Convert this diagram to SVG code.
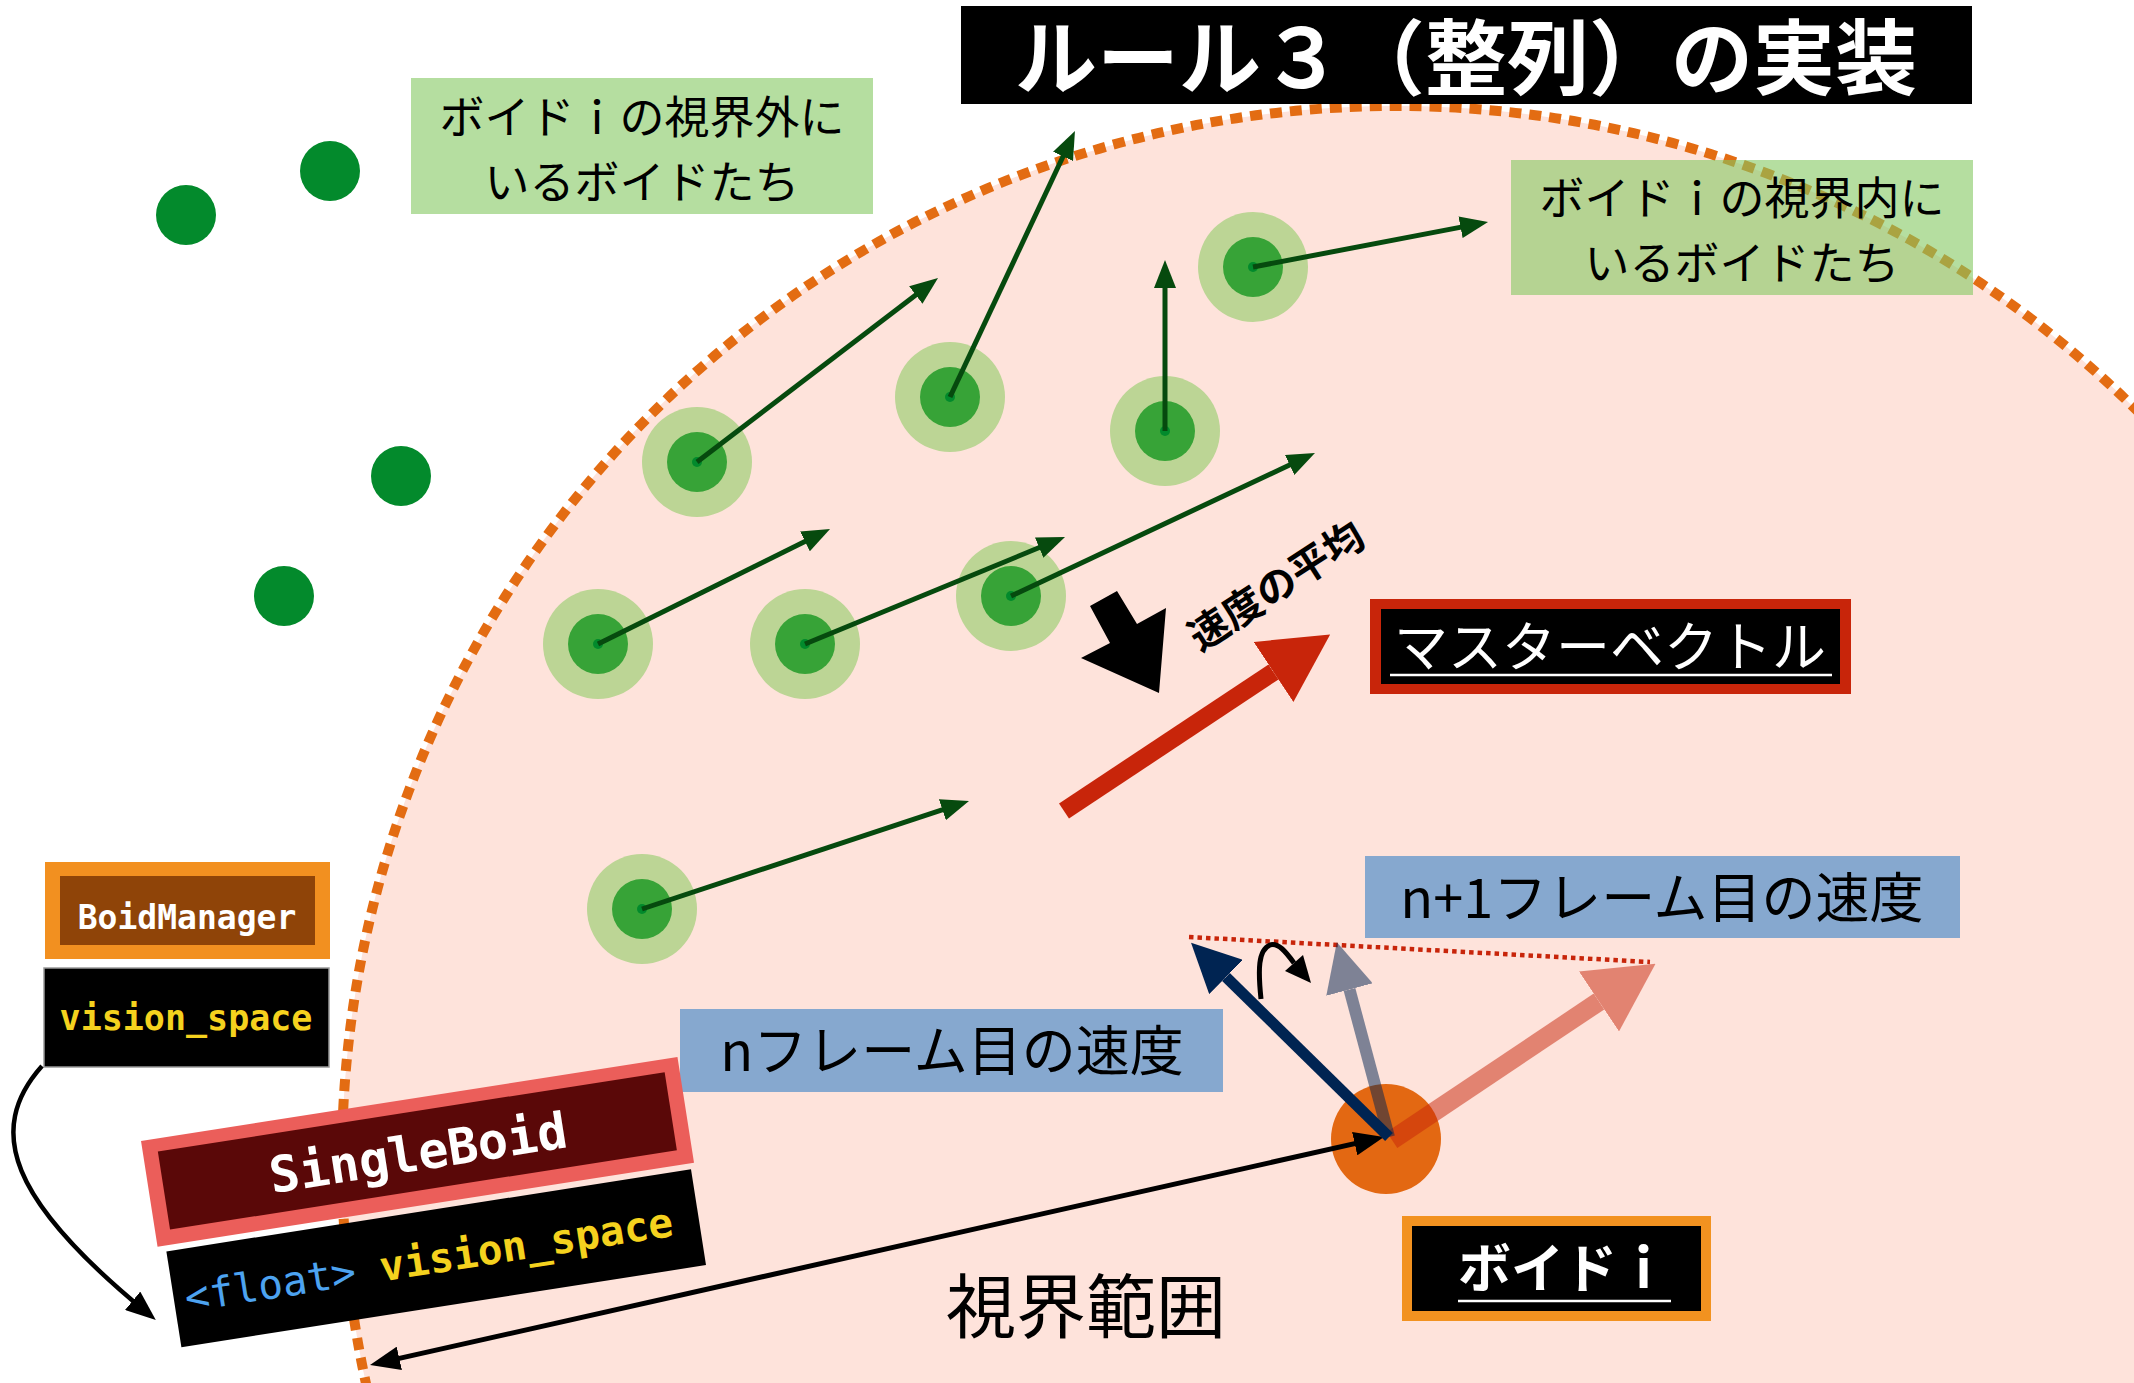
<svg xmlns="http://www.w3.org/2000/svg" width="2134" height="1383" viewBox="0 0 2134 1383">
<style>
.jp{font-family:'Noto Sans CJK JP','Noto Sans',sans-serif}
.mono{font-family:'DejaVu Sans Mono','Liberation Mono',monospace;font-weight:bold}
.ga{stroke:#064a0e;stroke-width:5;fill:none;marker-end:url(#gh)}
.bo{fill:#bcd595}.bi{fill:#37a337}.bc{fill:#028a2c}
.out{fill:#038a2c}
.lbl{fill:#84c861;fill-opacity:0.6}
.blue{fill:#86a8cf}
</style>
<defs>
<marker id="gh" viewBox="0 0 28 22" refX="14" refY="11" markerWidth="28" markerHeight="22" markerUnits="userSpaceOnUse" orient="auto"><path d="M0,0 L28,11 L0,22 z" fill="#064a0e"/></marker>
<marker id="bh" viewBox="0 0 30 24" refX="16" refY="12" markerWidth="30" markerHeight="24" markerUnits="userSpaceOnUse" orient="auto-start-reverse"><path d="M0,0 L30,12 L0,24 z" fill="#000"/></marker>
<marker id="rh" viewBox="0 0 68 72" refX="0" refY="36" markerWidth="68" markerHeight="72" markerUnits="userSpaceOnUse" orient="auto"><path d="M0,0 L68,36 L0,72 z" fill="#c8250a"/></marker>
<marker id="nh" viewBox="0 0 49 48" refX="0" refY="24" markerWidth="49" markerHeight="48" markerUnits="userSpaceOnUse" orient="auto"><path d="M0,0 L49,24 L0,48 z" fill="#002452"/></marker>
</defs>
<rect width="2134" height="1383" fill="#fff"/>

<g id="vision-range">
<circle cx="1396" cy="1160" r="1054" fill="#fee3db"/>
<circle cx="1396" cy="1160" r="1054" fill="none" stroke="#e36c12" stroke-width="10" stroke-dasharray="12 8"/>
<text class="jp" x="1086" y="1333" font-size="70" text-anchor="middle" fill="#000">視界範囲</text>
</g>

<g id="title">
<rect x="961" y="6" width="1011" height="98" fill="#000"/>
<text class="jp" x="1466" y="88" font-size="82" font-weight="bold" text-anchor="middle" fill="#fff">ルール３（整列）の実装</text>
</g>

<g id="outside-boids">
<circle class="out" cx="330" cy="171" r="30"/>
<circle class="out" cx="186" cy="215" r="30"/>
<circle class="out" cx="401" cy="476" r="30"/>
<circle class="out" cx="284" cy="596" r="30"/>
</g>

<g id="label-outside">
<rect class="lbl" x="411" y="78" width="462" height="136"/>
<text class="jp" x="642" y="134" font-size="45" text-anchor="middle">ボイドｉの視界外に</text>
<text class="jp" x="642" y="199" font-size="45" text-anchor="middle">いるボイドたち</text>
</g>

<g id="boid1"><circle class="bo" cx="697" cy="462" r="55"/><circle class="bi" cx="697" cy="462" r="30"/><circle class="bc" cx="697" cy="462" r="5"/></g>
<g id="boid2"><circle class="bo" cx="950" cy="397" r="55"/><circle class="bi" cx="950" cy="397" r="30"/><circle class="bc" cx="950" cy="397" r="5"/></g>
<g id="boid3"><circle class="bo" cx="1165" cy="431" r="55"/><circle class="bi" cx="1165" cy="431" r="30"/><circle class="bc" cx="1165" cy="431" r="5"/></g>
<g id="boid4"><circle class="bo" cx="1253" cy="267" r="55"/><circle class="bi" cx="1253" cy="267" r="30"/><circle class="bc" cx="1253" cy="267" r="5"/></g>
<g id="boid5"><circle class="bo" cx="598" cy="644" r="55"/><circle class="bi" cx="598" cy="644" r="30"/><circle class="bc" cx="598" cy="644" r="5"/></g>
<g id="boid6"><circle class="bo" cx="805" cy="644" r="55"/><circle class="bi" cx="805" cy="644" r="30"/><circle class="bc" cx="805" cy="644" r="5"/></g>
<g id="boid7"><circle class="bo" cx="1011" cy="596" r="55"/><circle class="bi" cx="1011" cy="596" r="30"/><circle class="bc" cx="1011" cy="596" r="5"/></g>
<g id="boid8"><circle class="bo" cx="642" cy="909" r="55"/><circle class="bi" cx="642" cy="909" r="30"/><circle class="bc" cx="642" cy="909" r="5"/></g>

<g id="label-inside">
<rect class="lbl" x="1511" y="160" width="462" height="135"/>
<text class="jp" x="1742" y="215" font-size="45" text-anchor="middle">ボイドｉの視界内に</text>
<text class="jp" x="1742" y="280" font-size="45" text-anchor="middle">いるボイドたち</text>
</g>

<g id="average-label">
<polygon points="1090,606 1117,591 1137,624 1166,608 1159,693 1081,658 1110,643" fill="#000"/>
<text class="jp" transform="translate(1284,598) rotate(-33)" font-size="40" font-weight="bold" text-anchor="middle">速度の平均</text>
</g>

<g id="master-vector-label">
<rect x="1370" y="599" width="481" height="95" fill="#c8250a"/>
<rect x="1381" y="609" width="459" height="75" fill="#000"/>
<text class="jp" x="1610" y="667" font-size="54" text-anchor="middle" fill="#fff">マスターベクトル</text>
<line x1="1390" y1="675" x2="1832" y2="675" stroke="#fff" stroke-width="2.5"/>
</g>

<g id="label-n1">
<rect class="blue" x="1365" y="856" width="595" height="82"/>
<text class="jp" x="1662" y="918" font-size="54" text-anchor="middle">n+1フレーム目の速度</text>
</g>
<g id="label-n">
<rect class="blue" x="680" y="1009" width="543" height="83"/>
<text class="jp" x="952" y="1071" font-size="54" text-anchor="middle">nフレーム目の速度</text>
</g>

<g id="boid-i">
<circle cx="1386" cy="1139" r="55" fill="#e36812"/>
</g>

<g id="boid-i-label">
<rect x="1402" y="1216" width="309" height="105" fill="#f29220"/>
<rect x="1412" y="1226" width="289" height="85" fill="#000"/>
<text class="jp" x="1564" y="1288" font-size="53" font-weight="bold" text-anchor="middle" fill="#fff">ボイドｉ</text>
<line x1="1458" y1="1301" x2="1671" y2="1301" stroke="#fff" stroke-width="2.5"/>
</g>

<g id="boid-manager">
<rect x="45" y="862" width="285" height="97" fill="#f29020"/>
<rect x="60" y="876" width="255" height="69" fill="#8f4408"/>
<text class="mono" x="187" y="929" font-size="33" text-anchor="middle" fill="#fff">BoidManager</text>
</g>
<g id="manager-vision-space">
<rect x="44" y="968" width="285" height="99" fill="#000" stroke="#999" stroke-width="1.5"/>
<text class="mono" x="186" y="1030" font-size="35" text-anchor="middle" fill="#f5d21e">vision_space</text>
</g>

<g id="single-boid" transform="translate(141,1141) rotate(-8.9)">
<rect x="0" y="0" width="543" height="107" fill="#eb5e5a"/>
<rect x="15" y="13" width="513" height="79" fill="#5a0808"/>
<text class="mono" x="272" y="72" font-size="50" text-anchor="middle" fill="#fff">SingleBoid</text>
<rect x="8" y="113" width="531" height="97" fill="#000"/>
<text class="mono" x="19" y="176" font-size="41"><tspan fill="#4da3f0" font-weight="normal">&lt;float&gt;</tspan> <tspan fill="#f5d21e">vision_space</tspan></text>
</g>

<g id="connectors">
<line class="ga" x1="697" y1="462" x2="926.9" y2="286.5"/>
<line class="ga" x1="950" y1="397" x2="1069" y2="143.7"/>
<line class="ga" x1="1165" y1="431" x2="1165" y2="274"/>
<line class="ga" x1="1253" y1="267" x2="1474.3" y2="224.6"/>
<line class="ga" x1="598" y1="644" x2="817.5" y2="535.2"/>
<line class="ga" x1="805" y1="644" x2="1052.1" y2="542.3"/>
<line class="ga" x1="1011" y1="596" x2="1302.3" y2="459"/>
<line class="ga" x1="642" y1="909" x2="955.7" y2="805.4"/>

<line x1="1064" y1="811" x2="1273.5" y2="672" stroke="#c8250a" stroke-width="18" marker-end="url(#rh)"/>

<line x1="1189" y1="937" x2="1650" y2="962" stroke="#c8250a" stroke-width="4.5" stroke-dasharray="4.5 4"/>

<g opacity="0.5"><line x1="1392" y1="1140" x2="1599" y2="1001.5" stroke="#c8250a" stroke-width="19" marker-end="url(#rh)"/></g>
<g opacity="0.5"><line x1="1389" y1="1137" x2="1349.5" y2="989.5" stroke="#002452" stroke-width="12" marker-end="url(#nh)"/></g>
<line x1="383.7" y1="1361.9" x2="1370.3" y2="1140.1" stroke="#000" stroke-width="5" marker-start="url(#bh)" marker-end="url(#bh)"/>
<line x1="1389" y1="1137" x2="1226" y2="977" stroke="#002452" stroke-width="11" marker-end="url(#nh)"/>

<path d="M1261,999 C1258,970 1258,950 1270,945 C1278,942 1286,952 1294,963" fill="none" stroke="#000" stroke-width="5"/>
<polygon points="1311,983 1285,971 1303,955" fill="#000"/>

<path d="M42,1066 C-15,1130 10,1200 145,1311" fill="none" stroke="#000" stroke-width="4.5" marker-end="url(#bh)"/>
</g>
</svg>
